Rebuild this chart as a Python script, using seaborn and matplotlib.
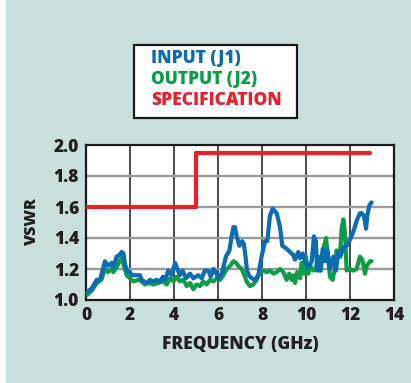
import matplotlib
matplotlib.use("Agg")
import matplotlib.pyplot as plt
import seaborn as sns
import pandas as pd
from matplotlib.patches import Rectangle

# ---- data ----
freq_in = [0.03, 0.26, 0.49, 0.64, 0.86, 1.0, 1.17, 1.24, 1.39, 1.51, 1.62, 1.70, 1.77, 1.89, 2.0, 2.07,
           2.3, 2.45, 2.53, 2.76, 2.9, 3.06, 3.2, 3.36, 3.5, 3.6, 3.74, 3.9, 4.05, 4.15, 4.27, 4.39, 4.55,
           4.73, 4.88, 5.1, 5.26, 5.4, 5.56, 5.67, 5.79, 5.9, 6.01, 6.17, 6.36, 6.52, 6.62, 6.7, 6.77, 6.85,
           6.97, 7.1, 7.18, 7.25, 7.32, 7.4, 7.53, 7.68, 7.83, 7.98, 8.14, 8.24, 8.36, 8.48, 8.67, 8.82,
           8.92, 9.12, 9.27, 9.42, 9.5, 9.65, 9.73, 9.85, 9.95, 10.1, 10.26, 10.36, 10.45, 10.5, 10.64,
           10.76, 10.88, 10.97, 11.09, 11.24, 11.36, 11.47, 11.56, 11.7, 11.85, 12.0, 12.15, 12.3, 12.45,
           12.53, 12.64, 12.73, 12.79, 12.88, 12.98]
vswr_in = [1.05, 1.075, 1.13, 1.13, 1.25, 1.22, 1.24, 1.21, 1.28, 1.29, 1.31, 1.30, 1.23, 1.18, 1.18, 1.16,
           1.16, 1.16, 1.13, 1.11, 1.13, 1.12, 1.13, 1.12, 1.15, 1.13, 1.19, 1.16, 1.24, 1.20, 1.16, 1.19, 1.14,
           1.17, 1.14, 1.16, 1.14, 1.19, 1.19, 1.15, 1.20, 1.18, 1.14, 1.17, 1.28, 1.32, 1.41, 1.47, 1.47, 1.41,
           1.35, 1.38, 1.36, 1.28, 1.19, 1.16, 1.14, 1.13, 1.16, 1.28, 1.38, 1.38, 1.54, 1.59, 1.56, 1.47,
           1.35, 1.33, 1.31, 1.29, 1.26, 1.31, 1.27, 1.30, 1.25, 1.21, 1.25, 1.41, 1.38, 1.19, 1.19,
           1.33, 1.25, 1.32, 1.20, 1.28, 1.19, 1.31, 1.28, 1.34, 1.35, 1.39, 1.44, 1.51, 1.56,
           1.56, 1.54, 1.46, 1.55, 1.61, 1.63]

freq_out = [0.03, 0.26, 0.49, 0.7, 0.86, 1.0, 1.17, 1.24, 1.39, 1.55, 1.62, 1.7, 1.85, 2.0, 2.15, 2.38,
            2.53, 2.68, 2.83, 3.06, 3.29, 3.5, 3.67, 3.82, 3.98, 4.12, 4.27, 4.42, 4.58, 4.73, 4.88, 5.03,
            5.18, 5.33, 5.48, 5.64, 5.79, 5.94, 6.09, 6.24, 6.39, 6.55, 6.7, 6.82, 6.92, 7.08, 7.2, 7.3,
            7.45, 7.6, 7.76, 7.9, 8.06, 8.21, 8.36, 8.52, 8.67, 8.82, 8.97, 9.12, 9.24, 9.35, 9.42, 9.5,
            9.6, 9.73, 9.8, 9.9, 10.0, 10.1, 10.2, 10.33, 10.45, 10.56, 10.67, 10.79, 10.91, 11.0, 11.09,
            11.21, 11.32, 11.39, 11.47, 11.55, 11.62, 11.7, 11.77, 11.85, 12.0, 12.15, 12.3, 12.45, 12.56,
            12.68, 12.76, 12.91, 12.98]
vswr_out = [1.03, 1.06, 1.11, 1.13, 1.20, 1.18, 1.20, 1.18, 1.21, 1.26, 1.27, 1.23, 1.16, 1.14, 1.12, 1.13,
            1.12, 1.10, 1.11, 1.10, 1.11, 1.12, 1.10, 1.14, 1.12, 1.15, 1.12, 1.13, 1.09, 1.11, 1.07, 1.10,
            1.09, 1.12, 1.10, 1.13, 1.12, 1.14, 1.13, 1.16, 1.20, 1.22, 1.25, 1.24, 1.22, 1.20, 1.16, 1.12,
            1.09, 1.10, 1.13, 1.18, 1.19, 1.18, 1.19, 1.17, 1.18, 1.20, 1.18, 1.13, 1.17, 1.13, 1.16, 1.11,
            1.18, 1.14, 1.24, 1.17, 1.28, 1.17, 1.22, 1.19, 1.20, 1.28, 1.19, 1.33, 1.40, 1.28, 1.15,
            1.13, 1.21, 1.32, 1.28, 1.30, 1.46, 1.52, 1.43, 1.19, 1.20, 1.19, 1.20, 1.28, 1.26,
            1.17, 1.22, 1.25, 1.25]

spec_freq = [0.0, 5.0, 5.0, 12.9]
spec_vswr = [1.6, 1.6, 1.95, 1.95]

legend_labels = ["INPUT (J1)", "OUTPUT (J2)", "SPECIFICATION"]
xticks = [0, 2, 4, 6, 8, 10, 12, 14]
yticks = [1.0, 1.2, 1.4, 1.6, 1.8, 2.0]

BLUE = "#0b6cb6"
GREEN = "#0d9d48"
RED = "#e8202a"
TXT = "#231f20"
BG = "#c9dfdb"

sns.set_style("white")
plt.rcParams["font.family"] = ["Open Sans", "DejaVu Sans"]

fig = plt.figure(figsize=(4.11, 3.83), dpi=100)
fig.patch.set_facecolor("white")
fig.patches.append(Rectangle((6 / 411, 0), 1, 1, transform=fig.transFigure,
                             facecolor=BG, edgecolor="none", zorder=-10))

ax = fig.add_axes([86 / 411, 1 - 300 / 383, 308 / 411, 155 / 383])
ax.set_facecolor("white")

df_in = pd.DataFrame({"f": freq_in, "v": vswr_in})
df_out = pd.DataFrame({"f": freq_out, "v": vswr_out})
df_spec = pd.DataFrame({"f": spec_freq, "v": spec_vswr})

for xv in xticks[1:-1]:
    ax.axvline(xv, color="#1a1a1a", lw=1.1, zorder=1)
for yv in yticks[1:-1]:
    ax.axhline(yv, color="#9b9b9b", lw=1.7, zorder=1)

sns.lineplot(data=df_out, x="f", y="v", ax=ax, color=GREEN, lw=3.0, sort=False,
             estimator=None, zorder=3)
sns.lineplot(data=df_in, x="f", y="v", ax=ax, color=BLUE, lw=3.0, sort=False,
             estimator=None, zorder=4)
sns.lineplot(data=df_spec, x="f", y="v", ax=ax, color=RED, lw=3.0, sort=False,
             estimator=None, zorder=5)

ax.set_xlim(0, 14)
ax.set_ylim(1.0, 2.0)
ax.set_xticks(xticks)
ax.set_yticks(yticks)
ax.set_xticklabels([str(t) for t in xticks])
ax.set_yticklabels([f"{t:.1f}" for t in yticks])
ax.tick_params(axis="both", length=0, labelsize=12.5, labelcolor=TXT)
ax.tick_params(axis="x", pad=5)
ax.tick_params(axis="y", pad=5)
for lab in ax.get_xticklabels() + ax.get_yticklabels():
    lab.set_fontweight(800)
for s in ax.spines.values():
    s.set_visible(True)
    s.set_color("#1a1a1a")
    s.set_linewidth(1.6)
ax.set_xlabel("FREQUENCY (GHz)", fontsize=12.5, fontweight=800, color=TXT, labelpad=9)
ax.set_ylabel("VSWR", fontsize=11.5, fontweight=800, color=TXT, labelpad=10)

# legend box
fig.patches.append(Rectangle((134 / 411, 1 - 118 / 383), 163 / 411, 73 / 383,
                             transform=fig.transFigure, facecolor="white",
                             edgecolor="#1a1a1a", lw=1.6, zorder=5))
for lab, col, yb in zip(legend_labels, [BLUE, GREEN, RED], [63, 84, 105]):
    fig.text(151 / 411, 1 - yb / 383, lab, color=col, fontsize=12.5, fontweight=800,
             ha="left", va="baseline", zorder=6)

fig.savefig("out.png", dpi=100, facecolor=fig.get_facecolor())
